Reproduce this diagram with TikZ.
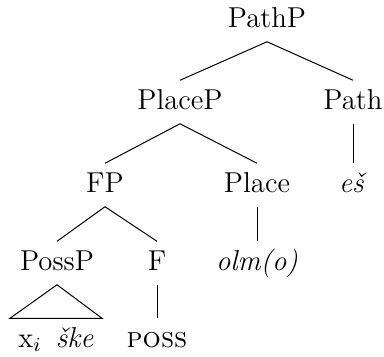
\documentclass[tikz,border=0pt]{standalone}
\usepackage{fontspec}
\begin{document}
\begin{tikzpicture}[x=0.4pt,y=-0.4pt,
  cat/.style={font=\fontsize{11.5}{13.5}\selectfont,inner xsep=2pt,inner ysep=3.4pt,text height=8pt,text depth=2.2pt}]
\useasboundingbox (0,0) rectangle (384,356);
\node[cat] (pathp) at (267,20) {PathP};
\node[cat] (placep) at (180,102) {PlaceP};
\node[cat] (path) at (353,102) {Path};
\node[cat] (fp) at (105,185) {FP};
\node[cat] (place) at (257,185) {Place};
\node[cat] (es) at (353,185) {\textit{eš}};
\node[cat] (possp) at (57,263) {PossP};
\node[cat] (f) at (157,263) {F};
\node[cat] (olm) at (257,263) {\textit{olm(o)}};
\node[cat] (xske) at (56,340) {x$_i$~\,\textit{ške}};
\node[cat] (poss) at (157,340) {\textsc{poss}};

\draw (pathp.south) -- (placep.north);
\draw (pathp.south) -- (path.north);
\draw (path.south) -- (es.north);
\draw (placep.south) -- (fp.north);
\draw (placep.south) -- (place.north);
\draw (place.south) -- (olm.north);
\draw (fp.south) -- (possp.north);
\draw (fp.south) -- (f.north);
\draw (f.south) -- (poss.north);
\draw (possp.south) -- (xske.north -| 10,0) -- (xske.north -| 102,0) -- cycle;
\end{tikzpicture}
\end{document}
